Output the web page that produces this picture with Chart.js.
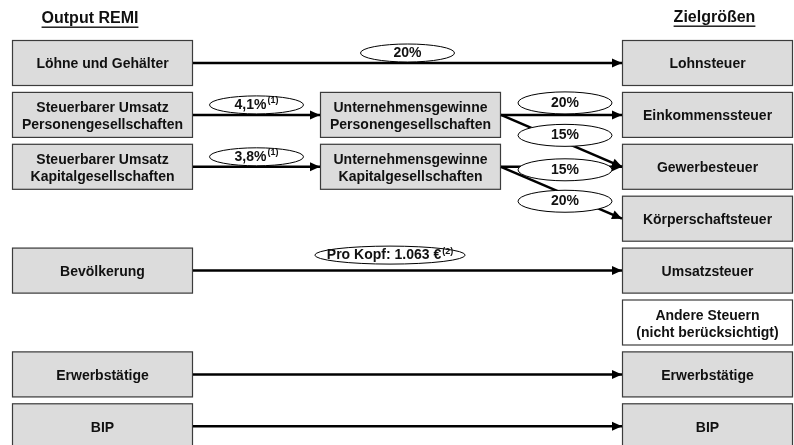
<!DOCTYPE html>
<html>
<head>
<meta charset="utf-8">
<script src="https://cdn.jsdelivr.net/npm/chart.js@4.4.0/dist/chart.umd.min.js"></script>
<style>
  body { margin: 0; background: #fff; }
</style>
</head>
<body>
<canvas id="flow" width="794" height="445"></canvas>
<script>
// nodes per column and the row slot each one sits in
const sourceNodes = [
  "Löhne und Gehälter",
  "Steuerbarer Umsatz\nPersonengesellschaften",
  "Steuerbarer Umsatz\nKapitalgesellschaften",
  "Bevölkerung",
  "Erwerbstätige",
  "BIP",
];
const sourceRows = [0, 1, 2, 4, 6, 7];
const middleNodes = [
  "Unternehmensgewinne\nPersonengesellschaften",
  "Unternehmensgewinne\nKapitalgesellschaften",
];
const middleRows = [1, 2];
const targetNodes = [
  "Lohnsteuer",
  "Einkommenssteuer",
  "Gewerbesteuer",
  "Körperschaftsteuer",
  "Umsatzsteuer",
  "Andere Steuern\n(nicht berücksichtigt)",
  "Erwerbstätige",
  "BIP",
];
const targetRows = [0, 1, 2, 3, 4, 5, 6, 7];
const inactiveTargets = ["Andere Steuern\n(nicht berücksichtigt)"];

// edges
const edgeFrom = [
  ["source", 0], ["source", 1], ["source", 2],
  ["middle", 0], ["middle", 0], ["middle", 1], ["middle", 1],
  ["source", 3], ["source", 4], ["source", 5],
];
const edgeTo = [
  ["target", 0], ["middle", 0], ["middle", 1],
  ["target", 1], ["target", 2], ["target", 2], ["target", 3],
  ["target", 4], ["target", 6], ["target", 7],
];
const edgeRates = ["20%", "4,1%", "3,8%", "20%", "15%", "15%", "20%", "Pro Kopf: 1.063 €", null, null];
const edgeNotes = ["", "(1)", "(1)", "", "", "", "", "(2)", "", ""];

const headers = ["Output REMI", "Zielgrößen"];

// layout (in chart units, the scales run 0..794 and 0..445)
const columns = { source: [12, 193], middle: [320, 501], target: [622, 793] };
const rowTop = 40;
const rowStep = 51.9;
const boxHeight = 46;
const labelShift = [
  [0, -10], [0, -10], [0, -10],
  [3.5, -12], [3.5, -5.5], [3.5, 3], [3.5, 8.5],
  [-17.5, -15.5], [0, 0], [0, 0],
];
const headerPos = [[90, 19], [714.5, 18]];

const FONT = '"Liberation Sans", Arial, sans-serif';
const nodeLists = {
  source: [sourceNodes, sourceRows],
  middle: [middleNodes, middleRows],
  target: [targetNodes, targetRows],
};

const rowCenter = (row) => rowTop + rowStep * row + boxHeight / 2;
const nodeRow = ([col, i]) => nodeLists[col][1][i];

const edgeDatasets = edgeFrom.map((from, i) => {
  const to = edgeTo[i];
  return {
    data: [
      { x: columns[from[0]][1], y: rowCenter(nodeRow(from)) },
      { x: columns[to[0]][0], y: rowCenter(nodeRow(to)) },
    ],
    showLine: true,
    borderColor: "#000",
    borderWidth: 2.5,
    pointRadius: 0,
    tension: 0,
  };
});

const drawText = (ctx, text, x, y, lineHeight) => {
  const lines = text.split("\n");
  const start = y - ((lines.length - 1) * lineHeight) / 2;
  lines.forEach((line, k) => ctx.fillText(line, x, start + k * lineHeight));
};

const diagramPlugin = {
  id: "diagram",
  beforeDatasetsDraw(chart) {
    const { ctx, scales } = chart;
    const px = (v) => scales.x.getPixelForValue(v);
    const py = (v) => scales.y.getPixelForValue(v);
    ctx.save();
    Object.keys(nodeLists).forEach((col) => {
      const [names, rows] = nodeLists[col];
      const [x0, x1] = columns[col];
      names.forEach((name, i) => {
        const top = rowTop + rowStep * rows[i];
        const left = px(x0), right = px(x1);
        const y0 = py(top), y1 = py(top + boxHeight);
        ctx.fillStyle = inactiveTargets.includes(name) ? "#ffffff" : "#dcdcdc";
        ctx.fillRect(left, y0, right - left, y1 - y0);
        ctx.strokeStyle = "#3c3c3c";
        ctx.lineWidth = 1.2;
        ctx.strokeRect(left + 0.5, y0 + 0.5, right - left - 1, y1 - y0 - 1);
        ctx.fillStyle = "#111";
        ctx.font = `bold 14px ${FONT}`;
        ctx.textAlign = "center";
        ctx.textBaseline = "middle";
        const multi = name.includes("\n");
        drawText(ctx, name, (left + right) / 2, (y0 + y1) / 2 + (multi ? 2 : 1.5), 17);
      });
    });
    ctx.restore();
  },
  afterDatasetsDraw(chart) {
    const { ctx, scales } = chart;
    const px = (v) => scales.x.getPixelForValue(v);
    const py = (v) => scales.y.getPixelForValue(v);
    ctx.save();
    // arrowheads
    chart.data.datasets.forEach((ds, i) => {
      const pts = chart.getDatasetMeta(i).data;
      const a = pts[0], b = pts[1];
      const ang = Math.atan2(b.y - a.y, b.x - a.x);
      const len = 10, half = 4.5;
      ctx.fillStyle = "#000";
      ctx.beginPath();
      ctx.moveTo(b.x, b.y);
      ctx.lineTo(b.x - len * Math.cos(ang) + half * Math.sin(ang), b.y - len * Math.sin(ang) - half * Math.cos(ang));
      ctx.lineTo(b.x - len * Math.cos(ang) - half * Math.sin(ang), b.y - len * Math.sin(ang) + half * Math.cos(ang));
      ctx.closePath();
      ctx.fill();
    });
    // rate labels in ellipses
    edgeRates.forEach((rate, i) => {
      if (!rate) return;
      const ds = chart.data.datasets[i].data;
      const cx = px((ds[0].x + ds[1].x) / 2 + labelShift[i][0]);
      const cy = py((ds[0].y + ds[1].y) / 2 + labelShift[i][1]);
      ctx.font = `bold 14px ${FONT}`;
      const mainW = ctx.measureText(rate).width;
      ctx.font = `bold 9px ${FONT}`;
      const noteW = edgeNotes[i] ? ctx.measureText(edgeNotes[i]).width + 1 : 0;
      const w = Math.max(94, mainW + noteW + 24);
      const h = edgeFrom[i][0] === "middle" ? 22 : 18;
      ctx.beginPath();
      ctx.ellipse(cx, cy, w / 2, h / 2, 0, 0, Math.PI * 2);
      ctx.fillStyle = "#fff";
      ctx.fill();
      ctx.strokeStyle = "#000";
      ctx.lineWidth = 1;
      ctx.stroke();
      const startX = cx - (mainW + noteW) / 2;
      ctx.fillStyle = "#111";
      ctx.textAlign = "left";
      ctx.textBaseline = "middle";
      ctx.font = `bold 14px ${FONT}`;
      ctx.fillText(rate, startX, cy);
      if (edgeNotes[i]) {
        ctx.font = `bold 9px ${FONT}`;
        ctx.fillText(edgeNotes[i], startX + mainW + 1, cy - 4);
      }
    });
    // column headers
    headers.forEach((title, i) => {
      const x = px(headerPos[i][0]), y = py(headerPos[i][1]);
      ctx.font = `bold 16px ${FONT}`;
      ctx.textAlign = "center";
      ctx.textBaseline = "middle";
      ctx.fillStyle = "#111";
      ctx.fillText(title, x, y);
      const w = ctx.measureText(title).width;
      ctx.fillRect(x - w / 2, y + 7.5, w, 1.4);
    });
    ctx.restore();
  },
};

new Chart(document.getElementById("flow"), {
  type: "scatter",
  data: { datasets: edgeDatasets },
  options: {
    responsive: false,
    animation: false,
    layout: { padding: 0 },
    plugins: { legend: { display: false }, tooltip: { enabled: false } },
    scales: {
      x: { type: "linear", min: 0, max: 794, display: false },
      y: { type: "linear", min: 0, max: 445, reverse: true, display: false },
    },
  },
  plugins: [diagramPlugin],
});
</script>
</body>
</html>
